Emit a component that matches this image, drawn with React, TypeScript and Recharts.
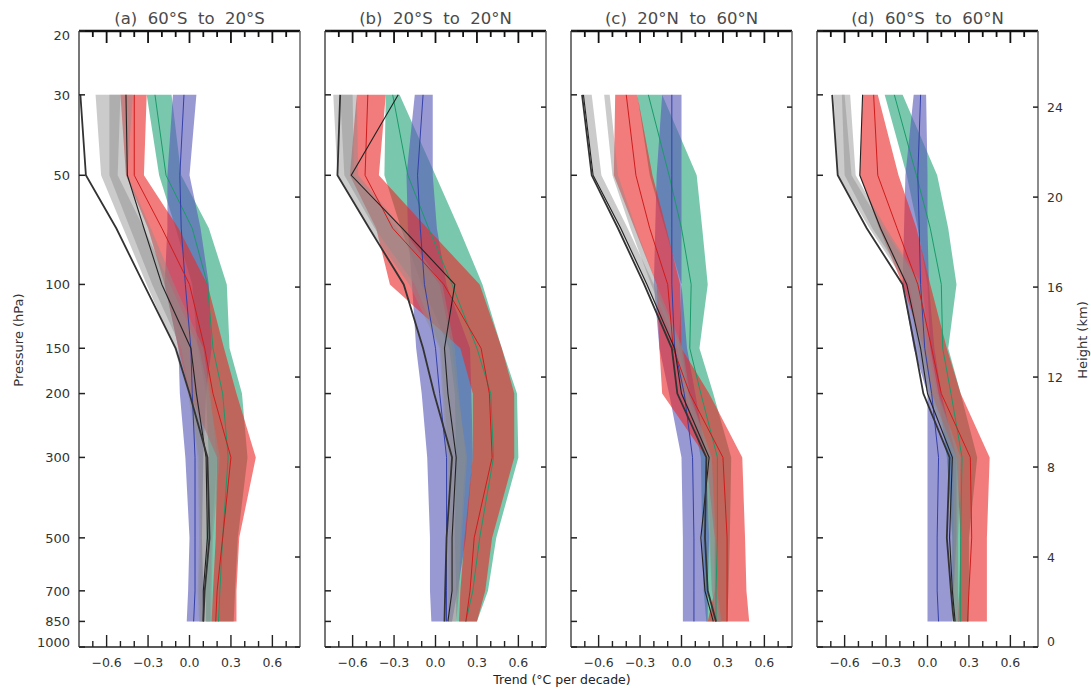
import { ComposedChart, Area, Line, XAxis, YAxis } from 'recharts';

// pressure levels (hPa) at which every profile is given
const LEVELS = [30, 50, 70, 100, 150, 200, 300, 500, 700, 850];
const P_TICKS = [20, 30, 50, 100, 150, 200, 300, 500, 700, 850, 1000];
const KM_TICKS = [0, 4, 8, 12, 16, 20, 24];
const X_TICKS = [-0.7, -0.6, -0.5, -0.4, -0.3, -0.2, -0.1, 0, 0.1, 0.2, 0.3, 0.4, 0.5, 0.6, 0.7];

// bands: [low, central, high] per level, trend in °C per decade
type Band = [number, number, number][];
type Range = [number, number][];

const A_GREEN: Band = [
  [-0.31, -0.25, -0.13], [-0.22, -0.17, -0.06], [-0.1, 0.02, 0.14], [0.02, 0.13, 0.27], [0.06, 0.17, 0.29],
  [0.12, 0.24, 0.38], [0.14, 0.28, 0.42], [0.12, 0.24, 0.35], [0.12, 0.22, 0.33], [0.12, 0.21, 0.32],
];
const A_BLUE: Band = [
  [-0.12, -0.04, 0.05], [-0.16, -0.07, 0.0], [-0.16, -0.06, 0.08], [-0.18, -0.03, 0.14], [-0.08, 0.01, 0.16],
  [-0.07, 0.02, 0.12], [-0.03, 0.04, 0.1], [0.0, 0.04, 0.09], [-0.01, 0.04, 0.1], [-0.02, 0.03, 0.1],
];
const A_RED: Band = [
  [-0.5, -0.4, -0.31], [-0.46, -0.4, -0.33], [-0.3, -0.2, -0.08], [-0.18, 0.0, 0.13], [-0.08, 0.11, 0.25],
  [0.0, 0.17, 0.34], [0.2, 0.3, 0.48], [0.19, 0.24, 0.36], [0.17, 0.2, 0.34], [0.16, 0.19, 0.34],
];
const A_GRAY1: Range = [
  [-0.68, -0.5], [-0.64, -0.52], [-0.48, -0.33], [-0.31, -0.14], [-0.11, 0.07],
  [-0.01, 0.14], [0.06, 0.22], [0.07, 0.17], [0.06, 0.16], [0.07, 0.16],
];
const A_GRAY2: Range = [
  [-0.58, -0.41], [-0.58, -0.45], [-0.43, -0.28], [-0.27, -0.11], [-0.06, 0.1],
  [0.0, 0.15], [0.07, 0.2], [0.08, 0.16], [0.07, 0.15], [0.08, 0.15],
];
const A_BLACK1 = [-0.79, -0.75, -0.53, -0.33, -0.1, 0.0, 0.13, 0.145, 0.11, 0.1];
const A_BLACK2 = [-0.46, -0.45, -0.33, -0.2, 0.01, 0.05, 0.12, 0.13, 0.1, 0.1];

const B_GREEN: Band = [
  [-0.36, -0.31, -0.26], [-0.37, -0.2, 0.0], [-0.25, -0.05, 0.17], [-0.1, 0.12, 0.34], [0.1, 0.3, 0.48],
  [0.14, 0.4, 0.59], [0.15, 0.42, 0.6], [0.14, 0.32, 0.44], [0.15, 0.27, 0.38], [0.15, 0.22, 0.3],
];
const B_BLUE: Band = [
  [-0.15, -0.09, -0.02], [-0.21, -0.13, -0.02], [-0.2, -0.11, 0.01], [-0.17, -0.08, 0.08], [-0.14, 0.0, 0.25],
  [-0.1, 0.03, 0.26], [-0.06, 0.08, 0.27], [-0.04, 0.08, 0.22], [-0.04, 0.08, 0.16], [-0.03, 0.08, 0.12],
];
const B_RED: Band = [
  [-0.57, -0.49, -0.36], [-0.62, -0.51, -0.41], [-0.43, -0.31, -0.06], [-0.33, 0.06, 0.32], [0.18, 0.33, 0.48],
  [0.27, 0.39, 0.57], [0.27, 0.41, 0.57], [0.21, 0.28, 0.41], [0.18, 0.25, 0.36], [0.17, 0.22, 0.3],
];
const B_GRAY1: Range = [
  [-0.74, -0.6], [-0.71, -0.59], [-0.48, -0.28], [-0.19, 0.03], [0.03, 0.12],
  [0.05, 0.16], [0.08, 0.23], [0.09, 0.19], [0.09, 0.17], [0.09, 0.15],
];
const B_GRAY2: Range = [
  [-0.69, -0.57], [-0.66, -0.56], [-0.44, -0.24], [-0.15, 0.05], [0.04, 0.14],
  [0.06, 0.17], [0.1, 0.22], [0.1, 0.18], [0.1, 0.17], [0.1, 0.15],
];
const B_BLACK1 = [-0.69, -0.71, -0.48, -0.23, -0.09, -0.01, 0.12, 0.08, 0.07, 0.065];
const B_BLACK2 = [-0.27, -0.61, -0.24, 0.14, 0.065, 0.09, 0.15, 0.12, 0.12, 0.09];

const C_GREEN: Band = [
  [-0.32, -0.24, -0.14], [-0.23, -0.09, 0.11], [-0.12, 0.0, 0.15], [0.0, 0.07, 0.19], [-0.02, 0.06, 0.13],
  [0.05, 0.14, 0.23], [0.14, 0.26, 0.36], [0.15, 0.26, 0.35], [0.16, 0.25, 0.34], [0.18, 0.25, 0.33],
];
const C_BLUE: Band = [
  [-0.14, -0.07, 0.0], [-0.18, -0.07, 0.0], [-0.19, -0.07, 0.0], [-0.2, -0.07, 0.0], [-0.16, -0.05, 0.04],
  [-0.09, 0.02, 0.1], [0.0, 0.08, 0.18], [0.01, 0.09, 0.2], [0.01, 0.09, 0.19], [0.01, 0.09, 0.19],
];
const C_RED: Band = [
  [-0.48, -0.4, -0.32], [-0.49, -0.33, -0.21], [-0.34, -0.23, -0.11], [-0.18, -0.1, -0.01], [-0.16, -0.06, 0.0],
  [-0.14, 0.06, 0.2], [0.18, 0.3, 0.44], [0.24, 0.33, 0.46], [0.24, 0.33, 0.47], [0.19, 0.33, 0.49],
];
const C_GRAY1: Range = [
  [-0.71, -0.65], [-0.64, -0.58], [-0.45, -0.39], [-0.26, -0.2], [-0.05, 0.0],
  [0.0, 0.05], [0.18, 0.22], [0.2, 0.25], [0.22, 0.26], [0.26, 0.29],
];
const C_GRAY2: Range = [
  [-0.56, -0.52], [-0.5, -0.46], [-0.37, -0.33], [-0.22, -0.18], [-0.03, 0.01],
  [0.02, 0.06], [0.19, 0.22], [0.21, 0.24], [0.22, 0.25], [0.25, 0.28],
];
const C_BLACK1 = [-0.72, -0.65, -0.46, -0.27, -0.07, -0.03, 0.18, 0.17, 0.19, 0.25];
const C_BLACK2 = [-0.71, -0.64, -0.44, -0.25, -0.05, 0.0, 0.2, 0.14, 0.17, 0.23];

const D_GREEN: Band = [
  [-0.31, -0.24, -0.18], [-0.15, -0.08, 0.07], [-0.07, 0.02, 0.15], [0.0, 0.1, 0.21], [0.02, 0.11, 0.15],
  [0.08, 0.17, 0.24], [0.14, 0.25, 0.36], [0.18, 0.24, 0.3], [0.18, 0.24, 0.3], [0.19, 0.24, 0.3],
];
const D_BLUE: Band = [
  [-0.1, -0.05, -0.01], [-0.16, -0.07, 0.0], [-0.17, -0.06, 0.0], [-0.18, -0.05, 0.01], [-0.1, -0.02, 0.05],
  [0.0, 0.03, 0.1], [0.0, 0.08, 0.21], [0.0, 0.07, 0.21], [0.0, 0.07, 0.19], [0.0, 0.08, 0.18],
];
const D_RED: Band = [
  [-0.47, -0.39, -0.36], [-0.49, -0.36, -0.21], [-0.35, -0.22, -0.08], [-0.18, -0.07, 0.02], [-0.03, 0.03, 0.14],
  [0.03, 0.1, 0.24], [0.21, 0.31, 0.45], [0.24, 0.32, 0.43], [0.23, 0.3, 0.43], [0.22, 0.29, 0.43],
];
const D_GRAY1: Range = [
  [-0.68, -0.6], [-0.65, -0.55], [-0.42, -0.32], [-0.15, -0.05], [-0.07, 0.0],
  [0.0, 0.07], [0.18, 0.24], [0.18, 0.22], [0.18, 0.22], [0.19, 0.23],
];
const D_GRAY2: Range = [
  [-0.62, -0.56], [-0.6, -0.52], [-0.4, -0.3], [-0.13, -0.04], [-0.05, 0.02],
  [0.02, 0.08], [0.19, 0.24], [0.19, 0.22], [0.19, 0.22], [0.2, 0.23],
];
const D_BLACK1 = [-0.69, -0.65, -0.44, -0.18, -0.09, -0.03, 0.16, 0.14, 0.17, 0.19];
const D_BLACK2 = [-0.47, -0.49, -0.34, -0.15, -0.05, 0.0, 0.18, 0.16, 0.18, 0.2];

const PANELS = [
  { title: '(a)  60°S  to  20°S', left: 79, green: A_GREEN, blue: A_BLUE, red: A_RED, gray1: A_GRAY1, gray2: A_GRAY2, black1: A_BLACK1, black2: A_BLACK2, pLabels: true, hLabels: false },
  { title: '(b)  20°S  to  20°N', left: 325, green: B_GREEN, blue: B_BLUE, red: B_RED, gray1: B_GRAY1, gray2: B_GRAY2, black1: B_BLACK1, black2: B_BLACK2, pLabels: false, hLabels: false },
  { title: '(c)  20°N  to  60°N', left: 571, green: C_GREEN, blue: C_BLUE, red: C_RED, gray1: C_GRAY1, gray2: C_GRAY2, black1: C_BLACK1, black2: C_BLACK2, pLabels: false, hLabels: false },
  { title: '(d)  60°S  to  60°N', left: 817, green: D_GREEN, blue: D_BLUE, red: D_RED, gray1: D_GRAY1, gray2: D_GRAY2, black1: D_BLACK1, black2: D_BLACK2, pLabels: false, hLabels: true },
];

const FONT = '"DejaVu Sans", sans-serif';
const H = 689;
const PLOT_W = 221;
const PLOT_TOP = 31;
const PLOT_BOTTOM = 647;
const AXIS_W = 48;
const SCALE_H = 7; // km, height of the log-pressure axis

const kmToP = (z: number) => 1000 * Math.exp(-z / SCALE_H);
const isMajor = (v: number) => Math.round(v * 10) % 3 === 0;
const fmtX = (v: number) => (Math.abs(v) < 1e-9 ? '0.0' : (v < 0 ? '\u2212' : '') + Math.abs(v).toFixed(1));

function buildRows(pn: (typeof PANELS)[number]) {
  return LEVELS.map((p, i) => ({
    p,
    green: [pn.green[i][0], pn.green[i][2]],
    greenMid: pn.green[i][1],
    blue: [pn.blue[i][0], pn.blue[i][2]],
    blueMid: pn.blue[i][1],
    red: [pn.red[i][0], pn.red[i][2]],
    redMid: pn.red[i][1],
    gray1: pn.gray1[i],
    gray2: pn.gray2[i],
    black1: pn.black1[i],
    black2: pn.black2[i],
  }));
}

function Panel({ pn }: { pn: (typeof PANELS)[number] }) {
  const rows = buildRows(pn);
  const xr = AXIS_W + PLOT_W;

  const bottomTick = (props: any) => {
    const { x, payload } = props;
    const len = isMajor(payload.value) ? 12 : 6;
    return (
      <g>
        <line x1={x} x2={x} y1={PLOT_BOTTOM} y2={PLOT_BOTTOM - len} stroke="#222" strokeWidth={1.4} />
        {isMajor(payload.value) && (
          <text x={x} y={667} textAnchor="middle" fontSize={12.5} fontFamily={FONT} fill="#333">
            {fmtX(payload.value)}
          </text>
        )}
      </g>
    );
  };
  const topTick = (props: any) => {
    const { x, payload } = props;
    const len = isMajor(payload.value) ? 12 : 6;
    return <line x1={x} x2={x} y1={PLOT_TOP} y2={PLOT_TOP + len} stroke="#111" strokeWidth={1.8} />;
  };
  const leftTick = (props: any) => {
    const { y, payload } = props;
    const v = payload.value;
    const dy = v === 1000 ? -5 : v === 20 ? 4 : 0;
    return (
      <g>
        <line x1={AXIS_W} x2={AXIS_W + 6} y1={y} y2={y} stroke="#222" strokeWidth={1.5} />
        {pn.pLabels && (
          <text x={AXIS_W - 9} y={y + dy} dy="0.36em" textAnchor="end" fontSize={13} fontFamily={FONT} fill="#333">
            {v}
          </text>
        )}
      </g>
    );
  };
  const rightTick = (props: any) => {
    const { y, payload } = props;
    const km = Math.round(SCALE_H * Math.log(1000 / payload.value));
    const dy = km === 0 ? -6 : 0;
    return (
      <g>
        <line x1={xr - 5} x2={xr} y1={y} y2={y} stroke="#222" strokeWidth={1.5} />
        {pn.hLabels && (
          <text x={xr + 9} y={y + dy} dy="0.36em" textAnchor="start" fontSize={12.5} fontFamily={FONT} fill="#333">
            {km}
          </text>
        )}
      </g>
    );
  };

  const xProps = {
    type: 'number' as const,
    domain: [-0.8, 0.8],
    ticks: X_TICKS,
    interval: 0 as const,
    allowDataOverflow: true,
    tickSize: 0,
    tickMargin: 0,
    tickLine: false,
  };
  // in a vertical layout the y axis already runs top to bottom, so 20 hPa sits at the top
  const yProps = {
    type: 'number' as const,
    dataKey: 'p',
    scale: 'log' as const,
    domain: [20, 1000],
    allowDataOverflow: true,
    interval: 0 as const,
    width: AXIS_W,
    tickSize: 0,
    tickMargin: 0,
    tickLine: false,
  };

  return (
    <div style={{ position: 'absolute', left: pn.left - AXIS_W, top: 0 }}>
      <ComposedChart
        layout="vertical"
        width={PLOT_W + 2 * AXIS_W}
        height={H}
        data={rows}
        margin={{ top: 0, right: 0, bottom: 0, left: 0 }}
      >
        <XAxis xAxisId="b" orientation="bottom" height={H - PLOT_BOTTOM} {...xProps} tick={bottomTick}
          axisLine={{ stroke: '#222', strokeWidth: 1.5 }} />
        <XAxis xAxisId="t" orientation="top" height={PLOT_TOP} {...xProps} tick={topTick}
          axisLine={{ stroke: '#111', strokeWidth: 2.4 }} />
        <YAxis yAxisId="l" orientation="left" {...yProps} ticks={P_TICKS} tick={leftTick}
          axisLine={{ stroke: '#555', strokeWidth: 1.6 }} />
        <YAxis yAxisId="r" orientation="right" {...yProps} ticks={KM_TICKS.map(kmToP)} tick={rightTick}
          axisLine={{ stroke: '#666', strokeWidth: 1.5 }} />

        <Area xAxisId="b" yAxisId="l" dataKey="green" type="linear" stroke="none" fill="#1fa476" fillOpacity={0.6} isAnimationActive={false} />
        <Area xAxisId="b" yAxisId="l" dataKey="blue" type="linear" stroke="none" fill="#5858b8" fillOpacity={0.62} isAnimationActive={false} />
        <Area xAxisId="b" yAxisId="l" dataKey="red" type="linear" stroke="none" fill="#ea2a2a" fillOpacity={0.62} isAnimationActive={false} />
        <Area xAxisId="b" yAxisId="l" dataKey="gray1" type="linear" stroke="none" fill="#8c8c8c" fillOpacity={0.45} isAnimationActive={false} />
        <Area xAxisId="b" yAxisId="l" dataKey="gray2" type="linear" stroke="none" fill="#8c8c8c" fillOpacity={0.45} isAnimationActive={false} />

        <Line xAxisId="t" yAxisId="r" dataKey="greenMid" type="linear" stroke="#1a9a6a" strokeWidth={1} dot={false} activeDot={false} isAnimationActive={false} />
        <Line xAxisId="t" yAxisId="r" dataKey="blueMid" type="linear" stroke="#3440a8" strokeWidth={1} dot={false} activeDot={false} isAnimationActive={false} />
        <Line xAxisId="t" yAxisId="r" dataKey="redMid" type="linear" stroke="#d01c1c" strokeWidth={1} dot={false} activeDot={false} isAnimationActive={false} />
        <Line xAxisId="t" yAxisId="r" dataKey="black2" type="linear" stroke="#222" strokeWidth={1.1} dot={false} activeDot={false} isAnimationActive={false} />
        <Line xAxisId="t" yAxisId="r" dataKey="black1" type="linear" stroke="#333" strokeWidth={1.8} dot={false} activeDot={false} isAnimationActive={false} />
      </ComposedChart>
    </div>
  );
}

export default function App() {
  return (
    <div style={{ position: 'absolute', left: 0, top: 0, width: 1091, height: H, background: '#fff', overflow: 'hidden' }}>
      {PANELS.map((pn) => (
        <Panel key={pn.title} pn={pn} />
      ))}
      <svg width={1091} height={H} style={{ position: 'absolute', left: 0, top: 0, pointerEvents: 'none' }}>
        {PANELS.map((pn) => (
          <text key={pn.title} x={pn.left + PLOT_W / 2} y={24} textAnchor="middle" fontSize={16.5}
            fontFamily={FONT} fill="#4a4a4a" style={{ whiteSpace: 'pre' }}>
            {pn.title}
          </text>
        ))}
        <text x={562} y={684} textAnchor="middle" fontSize={12.5} fontFamily={FONT} fill="#222">
          Trend (°C per decade)
        </text>
        <text x={18} y={340} dy="0.36em" textAnchor="middle" fontSize={13} fontFamily={FONT} fill="#333"
          transform="rotate(-90 18 340)">
          Pressure (hPa)
        </text>
        <text x={1082} y={340} dy="0.36em" textAnchor="middle" fontSize={13} fontFamily={FONT} fill="#333"
          transform="rotate(-90 1082 340)">
          Height (km)
        </text>
      </svg>
    </div>
  );
}
